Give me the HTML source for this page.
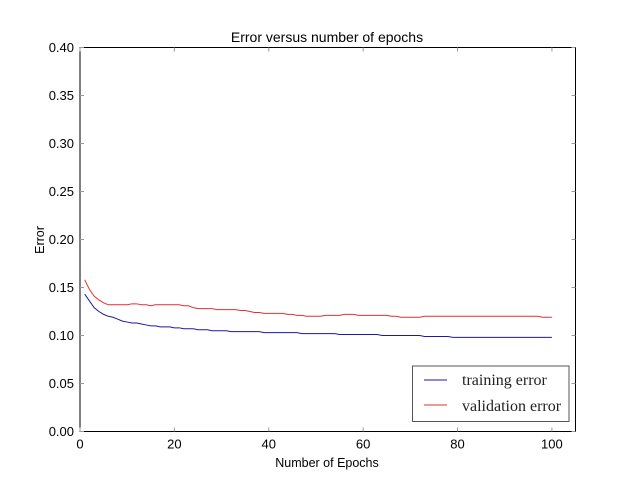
<!DOCTYPE html>
<html><head><meta charset="utf-8"><style>
body{margin:0;background:#fff;width:640px;height:480px;overflow:hidden}
svg text{font-family:"Liberation Sans",sans-serif}
</style></head><body>
<svg id="chart" width="640" height="480">
<rect width="640" height="480" fill="#fff"/>
<g id="marks"></g>
<rect x="80" y="47.5" width="495.5" height="384" fill="none" stroke="#000" stroke-width="1"/>
<g id="ticks"></g>
<text x="327" y="42" text-anchor="middle" font-size="14">Error versus number of epochs</text>
<text x="327" y="467" text-anchor="middle" font-size="12.5">Number of Epochs</text>
<text x="44" y="240" text-anchor="middle" font-size="12.5" transform="rotate(-90 44 240)">Error</text>
<g>
<rect x="412.5" y="366" width="156.5" height="55.5" fill="#fff" stroke="#555" stroke-width="1"/>
<line x1="424" y1="380" x2="447" y2="380" stroke="#1a1aa8" stroke-width="1"/>
<text x="462" y="385" font-size="16" style="font-family:'Liberation Serif',serif" fill="#222">training error</text>
<line x1="424" y1="405" x2="447" y2="405" stroke="#e03030" stroke-width="1"/>
<text x="462" y="411" font-size="16" style="font-family:'Liberation Serif',serif" fill="#222">validation error</text>
</g>
</svg>
<script>
const xTicks=[0,20,40,60,80,100];
const yTicks=[0,0.05,0.10,0.15,0.20,0.25,0.30,0.35,0.40];
const yTickLabels=["0.00","0.05","0.10","0.15","0.20","0.25","0.30","0.35","0.40"];
const training=[0.143,0.136,0.129,0.125,0.122,0.120,0.119,0.117,0.115,0.114,0.113,0.113,0.112,0.111,0.110,0.110,0.109,0.109,0.109,0.108,0.108,0.107,0.107,0.107,0.106,0.106,0.106,0.105,0.105,0.105,0.105,0.104,0.104,0.104,0.104,0.104,0.104,0.104,0.103,0.103,0.103,0.103,0.103,0.103,0.103,0.103,0.102,0.102,0.102,0.102,0.102,0.102,0.102,0.102,0.101,0.101,0.101,0.101,0.101,0.101,0.101,0.101,0.101,0.100,0.100,0.100,0.100,0.100,0.100,0.100,0.100,0.100,0.099,0.099,0.099,0.099,0.099,0.099,0.098,0.098,0.098,0.098,0.098,0.098,0.098,0.098,0.098,0.098,0.098,0.098,0.098,0.098,0.098,0.098,0.098,0.098,0.098,0.098,0.098,0.098];
const validation=[0.158,0.148,0.141,0.137,0.134,0.132,0.132,0.132,0.132,0.132,0.133,0.133,0.132,0.132,0.131,0.132,0.132,0.132,0.132,0.132,0.132,0.131,0.131,0.129,0.128,0.128,0.128,0.128,0.127,0.127,0.127,0.127,0.127,0.126,0.126,0.125,0.124,0.124,0.123,0.123,0.123,0.123,0.123,0.122,0.122,0.121,0.121,0.120,0.120,0.120,0.120,0.121,0.121,0.121,0.121,0.122,0.122,0.122,0.121,0.121,0.121,0.121,0.121,0.121,0.121,0.120,0.120,0.119,0.119,0.119,0.119,0.119,0.120,0.120,0.120,0.120,0.120,0.120,0.120,0.120,0.120,0.120,0.120,0.120,0.120,0.120,0.120,0.120,0.120,0.120,0.120,0.120,0.120,0.120,0.120,0.120,0.120,0.119,0.119,0.119];
const X0=80,X1=575.5,Y0=431.5,Y1=47.5,XMAX=105,YMAX=0.4;
const xs=v=>X0+(X1-X0)*v/XMAX;
const ys=v=>Y0-(Y0-Y1)*v/YMAX;
const NS="http://www.w3.org/2000/svg";
const marks=document.getElementById('marks'),ticks=document.getElementById('ticks');
function line(arr,color,name){
  const p=document.createElementNS(NS,'polyline');
  p.setAttribute('points',arr.map((v,i)=>xs(i+1).toFixed(2)+','+ys(v).toFixed(2)).join(' '));
  p.setAttribute('fill','none');p.setAttribute('stroke',color);p.setAttribute('stroke-width','1');
  
  
  marks.appendChild(p);
}
line(training,'#1a1aa8','training-error-line');
line(validation,'#e03030','validation-error-line');
xTicks.forEach(t=>{
  const x=xs(t);
  [[Y0,Y0-4],[Y1,Y1+4]].forEach(([a,b])=>{const l=document.createElementNS(NS,'line');l.setAttribute('x1',x);l.setAttribute('x2',x);l.setAttribute('y1',a);l.setAttribute('y2',b);l.setAttribute('stroke','#999');
  
  
  ticks.appendChild(l);});
  const tx=document.createElementNS(NS,'text');tx.setAttribute('x',x);tx.setAttribute('y',Y0+17);tx.setAttribute('text-anchor','middle');tx.setAttribute('font-size','13');tx.textContent=t;
  
  
  ticks.appendChild(tx);
});
yTicks.forEach((t,i)=>{
  const y=ys(t);
  [[X0,X0+4],[X1,X1-4]].forEach(([a,b])=>{const l=document.createElementNS(NS,'line');l.setAttribute('y1',y);l.setAttribute('y2',y);l.setAttribute('x1',a);l.setAttribute('x2',b);l.setAttribute('stroke','#999');
  
  
  ticks.appendChild(l);});
  const tx=document.createElementNS(NS,'text');tx.setAttribute('x',X0-6);tx.setAttribute('y',y+4.5);tx.setAttribute('text-anchor','end');tx.setAttribute('font-size','13');tx.textContent=yTickLabels[i];
  
  
  ticks.appendChild(tx);
});
</script>
</body></html>
